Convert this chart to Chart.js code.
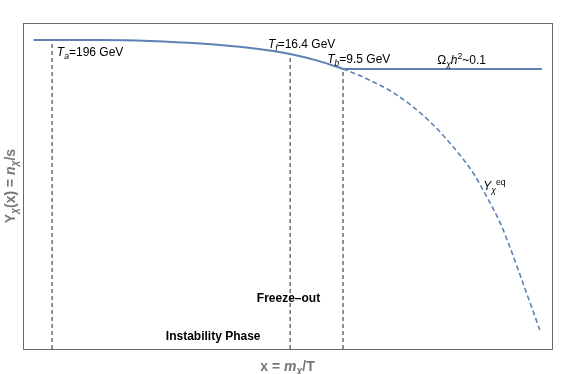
<!DOCTYPE html>
<html>
<head>
<meta charset="utf-8">
<script src="https://cdn.jsdelivr.net/npm/chart.js@4/dist/chart.umd.min.js"></script>
<style>
html,body{margin:0;padding:0;background:#fff;}
#wrap{position:relative;width:576px;height:374px;}
</style>
</head>
<body>
<div id="wrap"><canvas id="c"></canvas></div>
<script>
// ---- Data (arbitrary units: x 0..100, y 0..100) ----
const yieldX = [2, 14.6, 24, 33.5, 43, 50.5, 56, 60.5];
const yieldY = [94.8, 94.8, 94.5, 93.7, 92.3, 90.5, 88.3, 85.9];
const relicX = [60.5, 98.1];
const relicY = [85.9, 85.9];
const eqX = [60.5, 64.3, 70.7, 77, 82.6, 85.1, 87.7, 90.2, 92.1, 94.5, 97.7];
const eqY = [85.9, 83.4, 77.9, 69.6, 59.5, 54, 46.6, 38.7, 31, 20.3, 5.8];
const markerX = [5.5, 50.5, 60.5];      // T_a, T_f, T_b
const markerTop = [94.8, 90.5, 85.9];

const pts = (xs, ys) => xs.map((x, i) => ({x, y: ys[i]}));
const BLUE = '#5E81B5';
const FONT = '"Liberation Sans", Arial, Helvetica, sans-serif';

const datasets = [
  {data: pts(yieldX, yieldY), borderColor: BLUE, borderWidth: 2, cubicInterpolationMode: 'monotone'},
  {data: pts(relicX, relicY), borderColor: BLUE, borderWidth: 2},
  {data: pts(eqX, eqY), borderColor: BLUE, borderWidth: 1.6, borderDash: [5, 3], cubicInterpolationMode: 'monotone'},
];
markerX.forEach((x, i) => datasets.push({
  data: [{x, y: 0}, {x, y: markerTop[i]}], borderColor: '#4a4a4a', borderWidth: 1.2, borderDash: [4, 3]
}));
datasets.forEach(d => { d.pointRadius = 0; d.fill = false; });

// ---- Annotations (rich text) ----
const notes = [
  {x: 6.4, y: 89.9, segs: [{t: 'T', i: 1}, {t: 'a', i: 1, sub: 1}, {t: '=196 GeV'}]},
  {x: 46.3, y: 92.3, segs: [{t: 'T', i: 1}, {t: 'f', i: 1, sub: 1}, {t: '=16.4 GeV'}]},
  {x: 57.5, y: 87.7, segs: [{t: 'T', i: 1}, {t: 'b', i: 1, sub: 1}, {t: '=9.5 GeV'}]},
  {x: 78.3, y: 87.4, segs: [{t: 'Ω'}, {t: 'χ', i: 1, sub: 1}, {t: 'h', i: 1}, {t: '2', sup: 1}, {t: '~0.1'}]},
  {x: 87.0, y: 48.8, segs: [{t: 'Y', i: 1}, {t: 'χ', i: 1, sub: 1}, {t: 'eq', sup: 1}]},
  {x: 44.2, y: 14.4, segs: [{t: 'Freeze\u2013out', b: 1}]},
  {x: 27.0, y: 2.8, segs: [{t: 'Instability Phase', b: 1}]},
];
const xTitle = [{t: 'x = ', b: 1}, {t: 'm', b: 1, i: 1}, {t: 'χ', b: 1, i: 1, sub: 1}, {t: '/T', b: 1}];
const yTitle = [{t: 'Y', b: 1}, {t: 'χ', b: 1, i: 1, sub: 1}, {t: '(x) = ', b: 1}, {t: 'n', b: 1, i: 1}, {t: 'χ', b: 1, i: 1, sub: 1}, {t: '/s', b: 1}];

function segFont(s, size) {
  const sz = (s.sub || s.sup) ? size * 0.72 : size;
  return (s.i ? 'italic ' : '') + (s.b ? 'bold ' : '') + sz.toFixed(1) + 'px ' + FONT;
}
function richWidth(ctx, segs, size) {
  let w = 0;
  segs.forEach(s => { ctx.font = segFont(s, size); w += ctx.measureText(s.t).width; });
  return w;
}
function drawRich(ctx, x, y, segs, size, color) {
  ctx.fillStyle = color;
  ctx.textBaseline = 'alphabetic';
  ctx.textAlign = 'left';
  let cx = x;
  segs.forEach(s => {
    ctx.font = segFont(s, size);
    const dy = s.sub ? size * 0.22 : (s.sup ? -size * 0.4 : 0);
    ctx.fillText(s.t, cx, y + dy);
    cx += ctx.measureText(s.t).width;
  });
}

const decor = {
  id: 'decor',
  beforeDatasetsDraw(chart) {
    const {ctx, chartArea: a} = chart;
    ctx.save();
    ctx.strokeStyle = '#666';
    ctx.lineWidth = 1;
    ctx.strokeRect(Math.round(a.left) + 0.5, Math.round(a.top) + 0.5, Math.round(a.right - a.left), Math.round(a.bottom - a.top));
    ctx.restore();
  },
  afterDatasetsDraw(chart) {
    const {ctx, chartArea: a, scales} = chart;
    ctx.save();
    notes.forEach(n => drawRich(ctx, scales.x.getPixelForValue(n.x), scales.y.getPixelForValue(n.y), n.segs, 12, '#000'));
    // x title
    const xs = 14;
    const xw = richWidth(ctx, xTitle, xs);
    drawRich(ctx, (a.left + a.right) / 2 - xw / 2, a.bottom + 22, xTitle, xs, '#777');
    // y title
    const yw = richWidth(ctx, yTitle, xs);
    ctx.translate(a.left - 8, (a.top + a.bottom) / 2);
    ctx.rotate(-Math.PI / 2);
    drawRich(ctx, -yw / 2, 0, yTitle, xs, '#777');
    ctx.restore();
  }
};

new Chart(document.getElementById('c'), {
  type: 'line',
  data: {datasets},
  options: {
    responsive: true,
    maintainAspectRatio: false,
    animation: false,
    layout: {padding: {left: 23, top: 23, right: 24, bottom: 25}},
    plugins: {legend: {display: false}, tooltip: {enabled: false}},
    scales: {
      x: {type: 'linear', display: false, min: 0, max: 100},
      y: {type: 'linear', display: false, min: 0, max: 100}
    }
  },
  plugins: [decor]
});
</script>
</body>
</html>
